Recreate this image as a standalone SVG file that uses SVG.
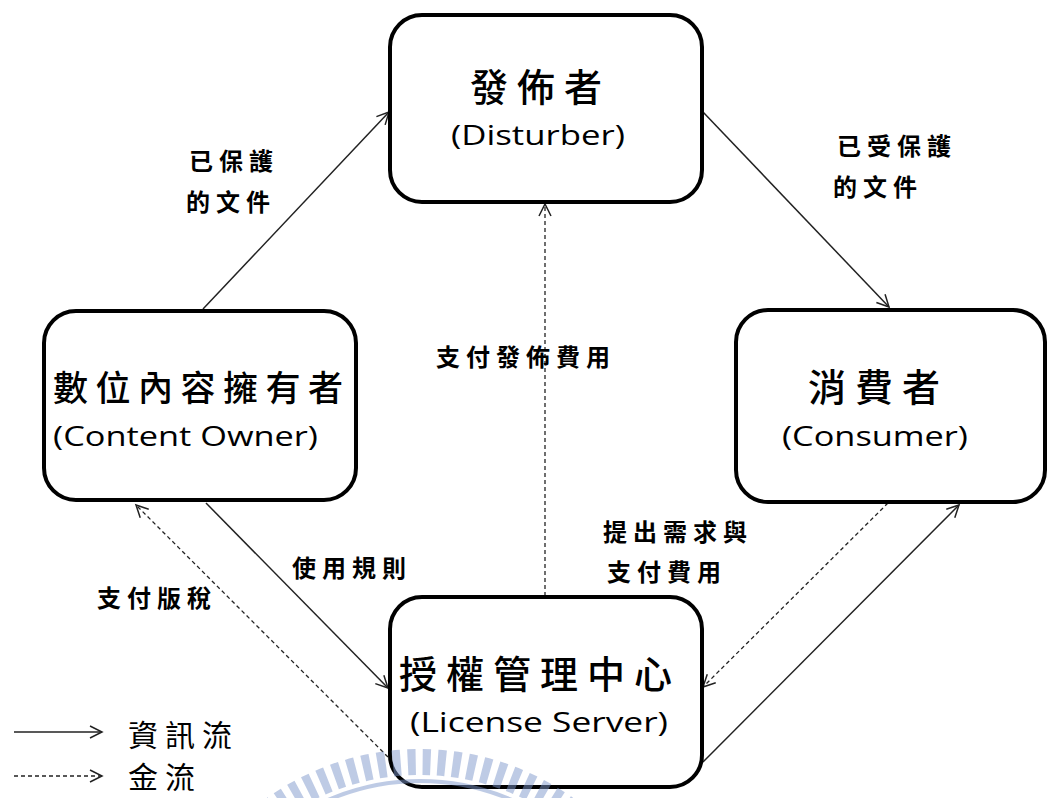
<svg xmlns="http://www.w3.org/2000/svg" width="1049" height="798" viewBox="0 0 1049 798">
<style>
.box{fill:#fff;stroke:#000;stroke-width:4}
.cjk{font-family:"Noto Sans CJK TC","Noto Sans CJK SC",sans-serif;fill:#000;font-weight:500}
.big{font-size:38px;letter-spacing:9px}
.en{font-family:"Open Sans","Noto Sans","DejaVu Sans",sans-serif;font-size:27px;fill:#000}
.lbl{font-family:"Noto Sans CJK TC","Noto Sans CJK SC",sans-serif;font-size:24px;font-weight:bold;letter-spacing:6px;fill:#000}
.leg{font-family:"Noto Sans CJK TC","Noto Sans CJK SC",sans-serif;font-size:30px;letter-spacing:7px;fill:#000}
.solid{fill:none;stroke:#222;stroke-width:1.5;marker-end:url(#arr)}
.dash{fill:none;stroke:#222;stroke-width:1.3;stroke-dasharray:4 3;marker-end:url(#arr)}
</style>
<defs>
<marker id="arr" markerUnits="userSpaceOnUse" markerWidth="16" markerHeight="16" refX="13" refY="7" orient="auto">
<path d="M1,1 L13,7 L1,13" fill="none" stroke="#222" stroke-width="1.5"/>
</marker>
</defs>
<rect width="1049" height="798" fill="#fff"/>

<g id="connectors">
<line class="solid" x1="203" y1="309" x2="389" y2="112"/>
<line class="solid" x1="703" y1="112" x2="889" y2="307"/>
<line class="dash" x1="545" y1="596" x2="545" y2="204"/>
<line class="solid" x1="206" y1="503" x2="388" y2="688"/>
<line class="dash" x1="388" y1="757" x2="136" y2="505"/>
<line class="dash" x1="888" y1="503" x2="703" y2="687"/>
<line class="solid" x1="703" y1="762" x2="959" y2="505"/>
</g>

<g id="disturber">
<rect class="box" x="390" y="15" width="312" height="187" rx="32"/>
<text class="cjk big" x="470" y="101">發佈者</text>
<text class="en" x="451" y="145" textLength="174" lengthAdjust="spacingAndGlyphs">(Disturber)</text>
</g>

<g id="content-owner">
<rect class="box" x="44" y="311" width="312" height="189" rx="32"/>
<text class="cjk" x="53" y="401" font-size="35" letter-spacing="7.5">數位內容擁有者</text>
<text class="en" x="53" y="446" textLength="265" lengthAdjust="spacingAndGlyphs">(Content Owner)</text>
</g>

<g id="consumer">
<rect class="box" x="736" y="310" width="309" height="192" rx="32"/>
<text class="cjk big" x="808" y="401">消費者</text>
<text class="en" x="782" y="446" textLength="186" lengthAdjust="spacingAndGlyphs">(Consumer)</text>
</g>

<g id="license-server">
<rect class="box" x="390" y="597" width="312" height="190" rx="32"/>
<text class="cjk" x="399" y="688" font-size="38" letter-spacing="9">授權管理中心</text>
<text class="en" x="410" y="732" textLength="258" lengthAdjust="spacingAndGlyphs">(License Server)</text>
</g>

<g id="labels">
<text class="lbl" x="189" y="170">已保護</text>
<text class="lbl" x="186" y="211">的文件</text>
<text class="lbl" x="837" y="155">已受保護</text>
<text class="lbl" x="833" y="196">的文件</text>
<text class="lbl" x="436" y="366">支付發佈費用</text>
<text class="lbl" x="603" y="541">提出需求與</text>
<text class="lbl" x="607" y="581">支付費用</text>
<text class="lbl" x="292" y="577">使用規則</text>
<text class="lbl" x="97" y="607">支付版稅</text>
</g>

<g id="legend">
<line class="solid" x1="14" y1="732" x2="102" y2="732"/>
<text class="leg" x="128" y="746">資訊流</text>
<line class="dash" x1="14" y1="776" x2="102" y2="776"/>
<text class="leg" x="128" y="788">金流</text>
</g>

<g id="watermark" opacity="0.5">
<circle cx="420" cy="1013" r="251" fill="none" stroke="#7f98cc" stroke-width="26" stroke-dasharray="8 7"/>
<circle cx="420" cy="1013" r="232" fill="none" stroke="#7f98cc" stroke-width="4"/>
</g>
</svg>
